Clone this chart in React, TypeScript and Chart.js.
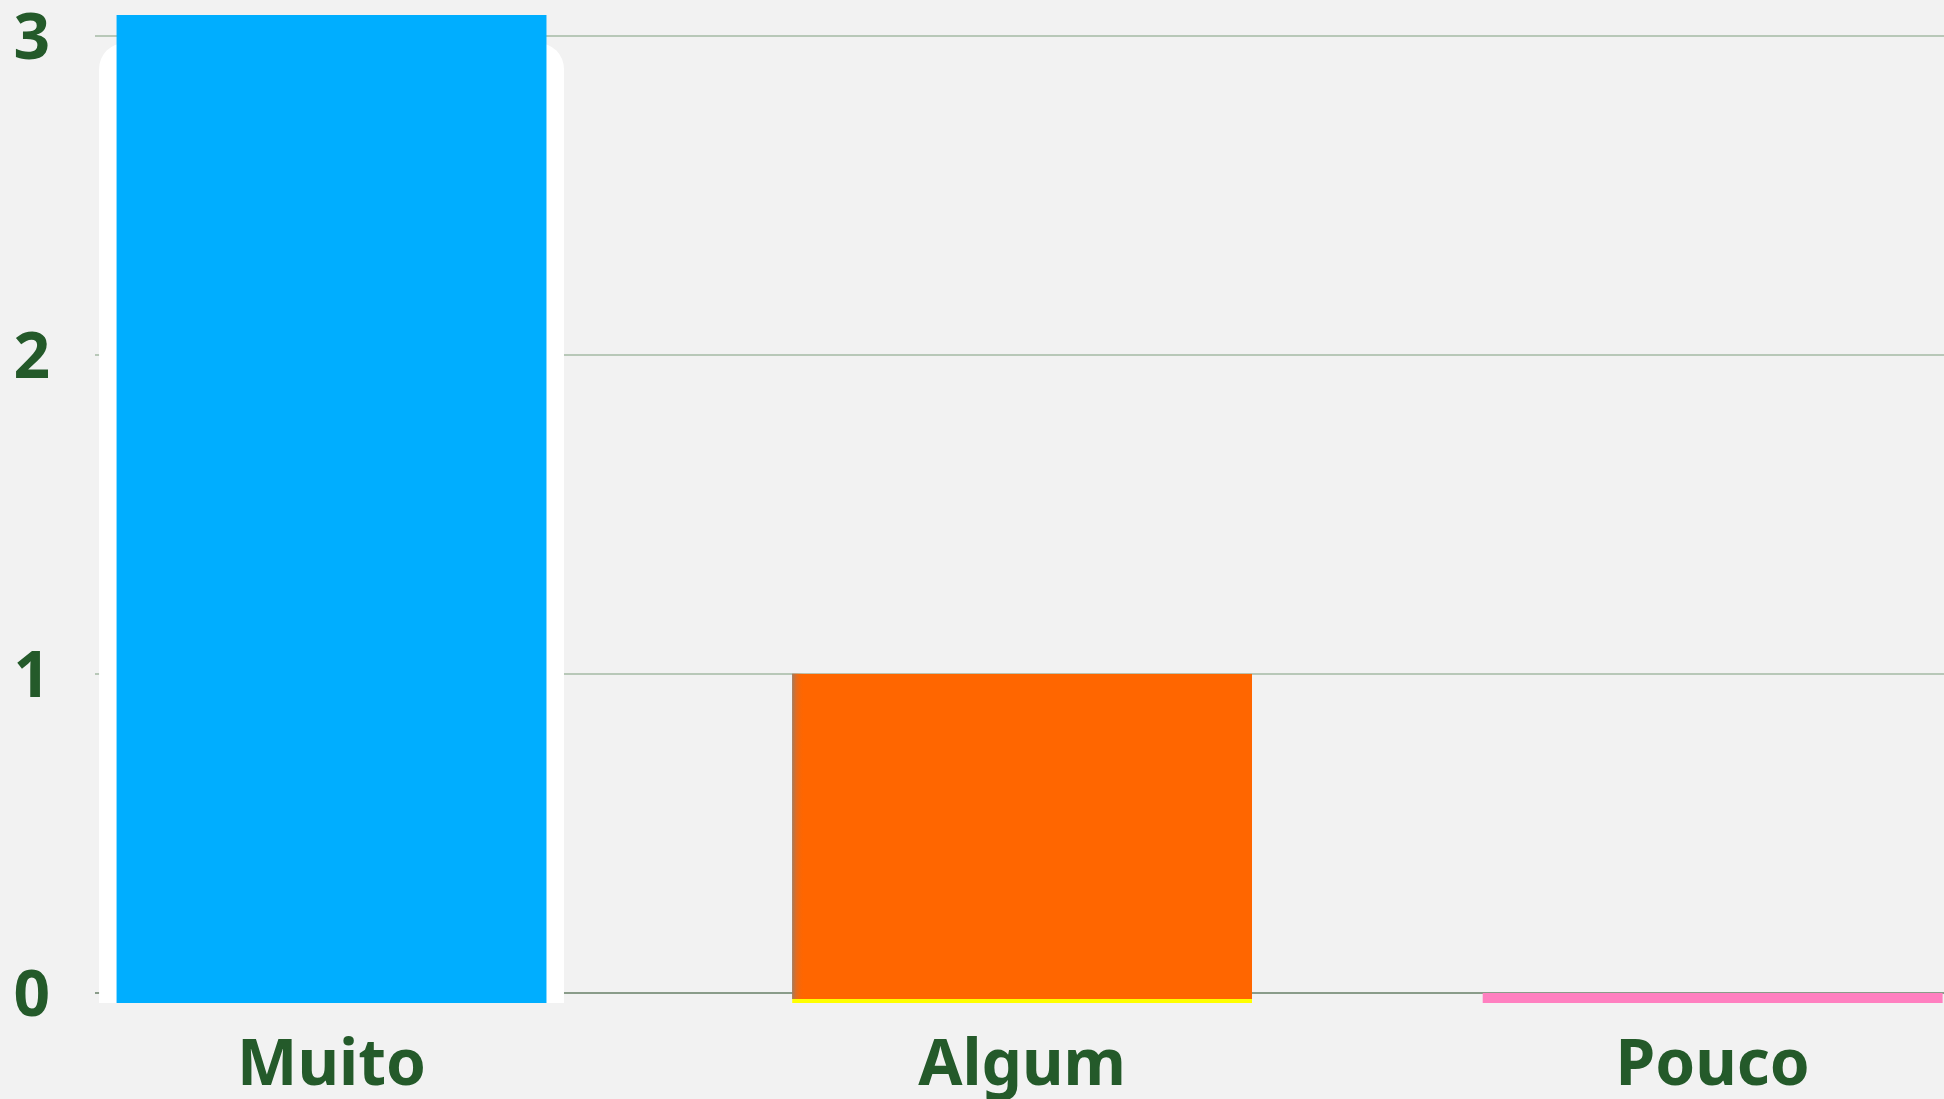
import React, { useEffect, useRef } from "react";
import { Chart, registerables } from "chart.js";

Chart.register(...registerables);

// ---- data ----
const categories = ["Muito", "Algum", "Pouco"];
const values = [3, 1, 0];
const barColors = ["#00aeff", "#ff6600", "#ff80c0"];
const barEdgeColors = ["rgba(0,0,0,0)", "#ffff00", "rgba(0,0,0,0)"];

const TEXT_GREEN = "#245a2a";
const FONT = "'Noto Sans', 'Open Sans', sans-serif";

const haloPlugin = {
  id: "barHalo",
  beforeDatasetsDraw(chart: any) {
    const el = chart.getDatasetMeta(0).data[0];
    if (!el) return;
    const { x, y, width, base } = el.getProps(["x", "y", "width", "base"], true);
    const ctx = chart.ctx;
    ctx.save();
    ctx.fillStyle = "#ffffff";
    ctx.beginPath();
    ctx.roundRect(x - width / 2 - 2.5, y + 28, width + 5, base - y - 28, [26, 26, 0, 0]);
    ctx.fill();
    ctx.restore();
  },
  afterDatasetsDraw(chart: any) {
    const el = chart.getDatasetMeta(0).data[1];
    if (!el) return;
    const { x, y, width, base } = el.getProps(["x", "y", "width", "base"], true);
    const left = x - width / 2;
    const ctx = chart.ctx;
    ctx.save();
    const g = ctx.createLinearGradient(left, 0, left + 12, 0);
    g.addColorStop(0, "rgba(150,125,105,0.95)");
    g.addColorStop(0.35, "rgba(215,110,45,0.7)");
    g.addColorStop(1, "rgba(255,102,0,0)");
    ctx.fillStyle = g;
    ctx.fillRect(left, y, 12, base - y - 4);
    ctx.restore();
  },
};

export default function App() {
  const canvasRef = useRef<HTMLCanvasElement | null>(null);

  useEffect(() => {
    if (!canvasRef.current) return;
    const chart = new Chart(canvasRef.current, {
      type: "bar",
      data: {
        datasets: [
          {
            data: categories.map((c, i) => ({ x: i, y: values[i] })),
            backgroundColor: barColors,
            borderColor: barEdgeColors,
            borderSkipped: false,
            borderWidth: (c: any) =>
              c.dataIndex === 0
                ? { top: 0, right: 15, bottom: 0, left: 15 }
                : c.dataIndex === 1
                ? { top: 0, right: 0, bottom: 4, left: 0 }
                : 0,
            minBarLength: 10,
            categoryPercentage: 1,
            barPercentage: 0.666,
            xAxisID: "x",
            yAxisID: "yb",
          } as any,
        ],
      },
      options: {
        animation: false,
        responsive: true,
        maintainAspectRatio: false,
        events: [],
        layout: { padding: { left: 13, top: 15, right: 0, bottom: 0 } },
        plugins: { legend: { display: false }, tooltip: { enabled: false } },
        scales: {
          x: {
            type: "linear",
            offset: false,
            min: -0.3425,
            max: 2.335,
            grid: { display: false, offset: false },
            border: { display: false },
            ticks: {
              stepSize: 1,
              includeBounds: false,
              autoSkip: false,
              maxRotation: 0,
              padding: 24,
              color: TEXT_GREEN,
              font: { family: FONT, size: 64, weight: "bold", lineHeight: 1 },
              callback: (v: any) => (Number.isInteger(v) ? categories[v] ?? "" : ""),
            },
            afterFit: (s: any) => {
              s.paddingLeft = 0;
              s.paddingRight = 0;
              s.height = 96;
            },
          },
          y: {
            position: "left",
            min: -0.0313,
            max: 3.0658,
            grid: {
              drawTicks: false,
              lineWidth: 2,
              color: (c: any) => (c.tick && c.tick.value === 0 ? "#8a9c8a" : "#b8c8b8"),
            },
            border: { display: false },
            ticks: {
              stepSize: 1,
              includeBounds: false,
              padding: 45,
              labelOffset: 5,
              color: TEXT_GREEN,
              font: { family: FONT, size: 64, weight: "bold" },
            },
            afterFit: (s: any) => {
              s.paddingTop = 0;
              s.paddingBottom = 0;
              s.width = 82;
            },
          },
          yb: { display: false, min: 0, max: 3 },
        } as any,
      },
      plugins: [haloPlugin],
    });
    return () => chart.destroy();
  }, []);

  return (
    <div
      style={{
        position: "fixed",
        left: 0,
        top: 0,
        width: "100vw",
        height: "100vh",
        background: "#f2f2f2",
      }}
    >
      <canvas ref={canvasRef} />
    </div>
  );
}
